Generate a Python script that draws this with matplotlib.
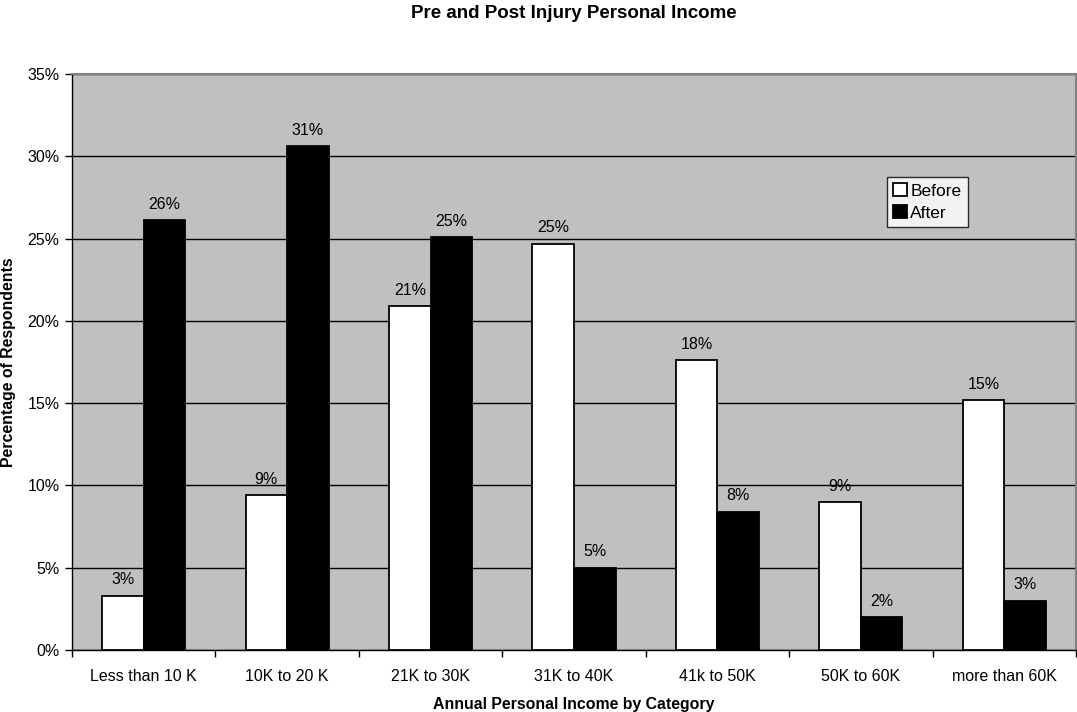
import matplotlib
matplotlib.use("Agg")
import matplotlib.pyplot as plt
import numpy as np
from matplotlib.ticker import FuncFormatter, MultipleLocator

plt.rcParams['font.family'] = ['Liberation Sans', 'DejaVu Sans']

categories = ["Less than 10 K", "10K to 20 K", "21K to 30K", "31K to 40K",
              "41k to 50K", "50K to 60K", "more than 60K"]
before = [3.3, 9.4, 20.9, 24.7, 17.6, 9.0, 15.2]
after = [26.1, 30.6, 25.1, 5.0, 8.4, 2.0, 3.0]

fig = plt.figure(figsize=(10.77, 7.12), dpi=100)
W, H = 1077, 712
ax = fig.add_axes([72 / W, (H - 650) / H, (1076 - 72) / W, (650 - 74) / H])
ax.set_facecolor("#C0C0C0")

x = np.arange(len(categories))
bw = 0.29
ax.bar(x - bw / 2, before, bw, color="white", edgecolor="black", linewidth=1.3,
       label="Before", zorder=3)
ax.bar(x + bw / 2, after, bw, color="black", edgecolor="black", linewidth=1.3,
       label="After", zorder=3)

for xi, v in zip(x - bw / 2, before):
    ax.annotate(f"{v:.0f}%", (xi, v), xytext=(0, 6), textcoords="offset points",
                ha="center", va="bottom", fontsize=11.5)
for xi, v in zip(x + bw / 2, after):
    ax.annotate(f"{v:.0f}%", (xi, v), xytext=(0, 6), textcoords="offset points",
                ha="center", va="bottom", fontsize=11.5)

ax.set_xlim(-0.5, len(categories) - 0.5)
ax.set_ylim(0, 35)
ax.yaxis.set_major_locator(MultipleLocator(5))
ax.yaxis.set_major_formatter(FuncFormatter(lambda v, p: f"{v:.0f}%"))
ax.grid(axis="y", color="black", linewidth=1.0, zorder=1)
ax.set_axisbelow(True)

ax.set_xticks(x)
ax.set_xticklabels(categories, fontsize=11.5)
ax.set_xticks(np.arange(-0.5, len(categories) + 0.5, 1), minor=True)
ax.tick_params(axis="x", which="major", length=0, pad=14)
ax.tick_params(axis="x", which="minor", length=5, width=1, color="black")
ax.tick_params(axis="y", length=5, width=1, labelsize=11.5, pad=4)

for s in ("left", "bottom"):
    ax.spines[s].set_color("black")
    ax.spines[s].set_linewidth(1.0)
for s in ("top", "right"):
    ax.spines[s].set_color("#808080")
    ax.spines[s].set_linewidth(1.5)

ax.set_xlabel("Annual Personal Income by Category", fontsize=11.4,
              fontweight="bold", labelpad=9)
ax.set_ylabel("Percentage of Respondents", fontsize=11.4, fontweight="bold",
              labelpad=8)
fig.text((72 + 1076) / 2 / W, 1 - 13 / H,
         "Pre and Post Injury Personal Income", ha="center", va="center",
         fontsize=13.5, fontweight="bold")

leg = ax.legend(loc="upper left", bbox_to_anchor=((887 - 72) / 1004, (650 - 177) / 576),
                frameon=True, fancybox=False, fontsize=12.5, handlelength=0.8,
                handleheight=0.8, handletextpad=0.2, borderpad=0.35,
                labelspacing=0.35, borderaxespad=0)
leg.get_frame().set_edgecolor("black")
leg.get_frame().set_linewidth(1.0)
leg.get_frame().set_facecolor("white")

fig.savefig("out.png", dpi=100)
